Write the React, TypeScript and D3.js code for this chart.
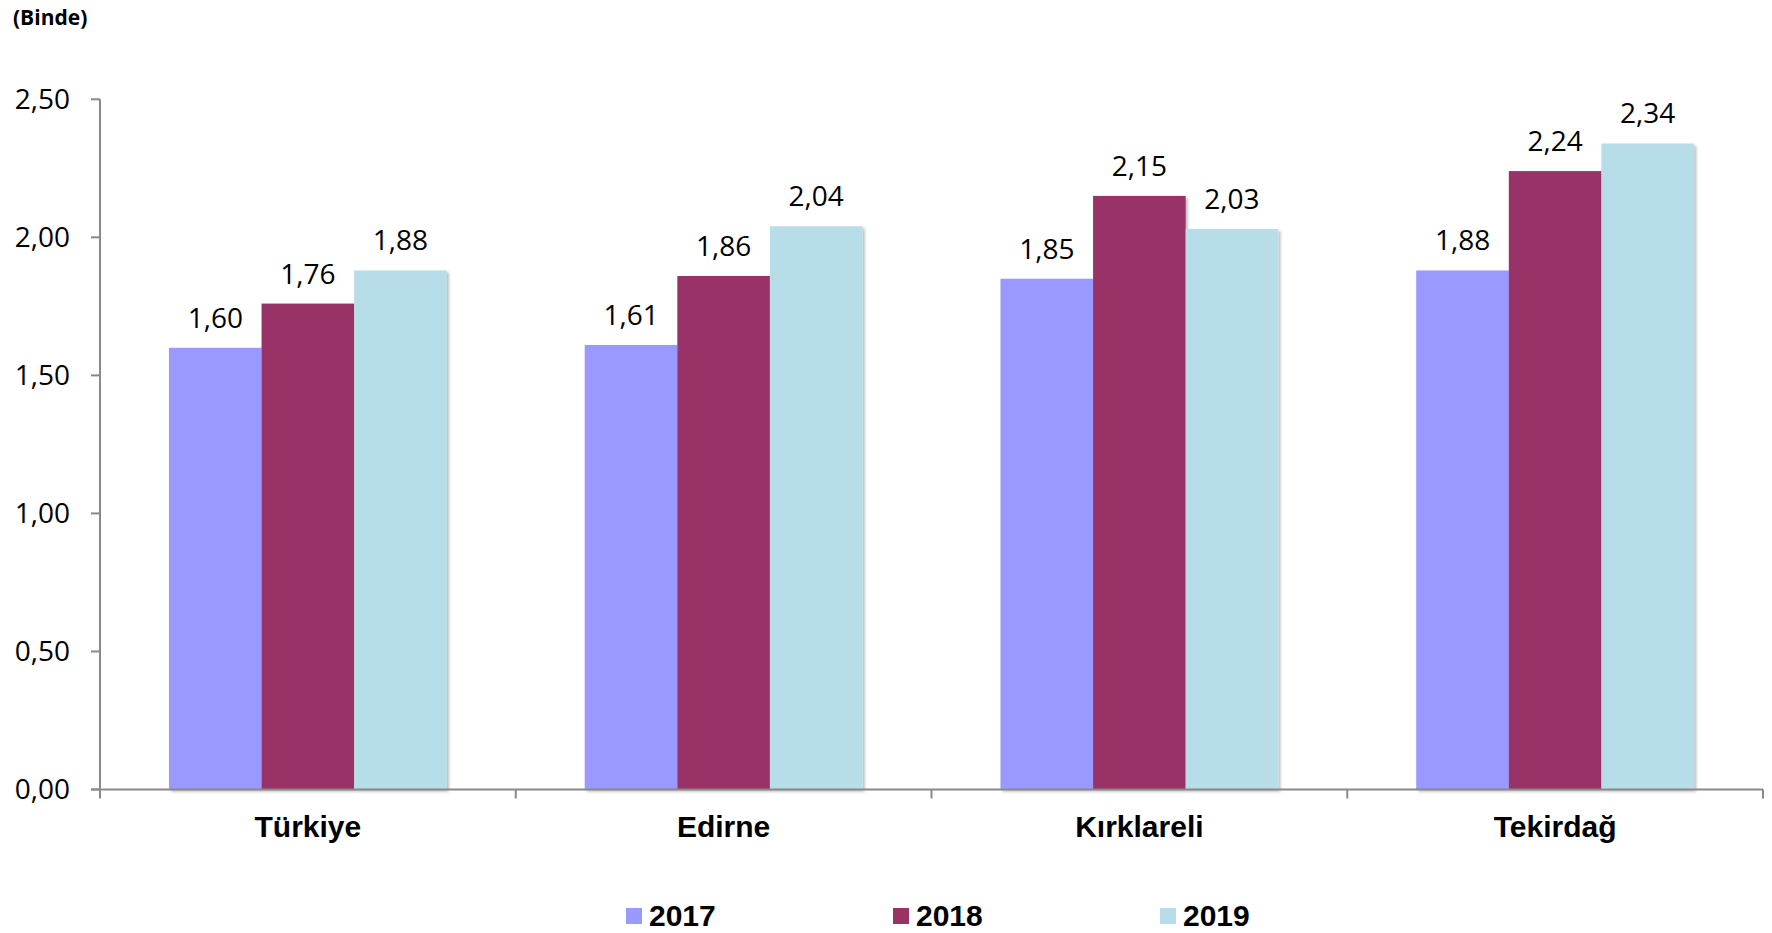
import React from "react";
import * as d3 from "d3";

const categories = ["Türkiye", "Edirne", "Kırklareli", "Tekirdağ"];
const seriesNames = ["2017", "2018", "2019"];
const values2017 = [1.6, 1.61, 1.85, 1.88];
const values2018 = [1.76, 1.86, 2.15, 2.24];
const values2019 = [1.88, 2.04, 2.03, 2.34];
const yTicks = [0, 0.5, 1, 1.5, 2, 2.5];
const colors = ["#9999FF", "#993366", "#B7DEE8"];

const W = 1772;
const H = 933;
const left = 100;
const right = 1763;
const top = 99.3;
const bottom = 789.5;

const fmt = (v: number) => v.toFixed(2).replace(".", ",");

export default function App() {
  const series = [values2017, values2018, values2019];
  const x = d3.scaleBand<string>().domain(categories).range([left, right]).paddingInner(0).paddingOuter(0);
  const inner = d3
    .scaleBand<string>()
    .domain(seriesNames)
    .range([0, x.bandwidth()])
    .paddingOuter(0.745)
    .paddingInner(0);
  const y = d3.scaleLinear().domain([0, 2.5]).range([bottom, top]);
  const axisColor = "#898989";
  const valueFont = "'Open Sans', sans-serif";
  const boldFont = "'Liberation Sans', Arial, sans-serif";

  const legendX = [626, 893, 1160];

  return (
    <div style={{ position: "fixed", left: 0, top: 0 }}>
      <svg width={W} height={H} style={{ display: "block", background: "#fff" }}>
        <defs>
          <filter id="sh" x="-10%" y="-10%" width="130%" height="130%">
            <feDropShadow dx="2" dy="2" stdDeviation="1.5" floodColor="#000" floodOpacity="0.28" />
          </filter>
        </defs>
        <text x={13} y={25} fontFamily={valueFont} fontWeight="bold" fontSize={21} fill="#000">
          (Binde)
        </text>

        {/* bars */}
        {categories.map((c, ci) =>
          series.map((vals, si) => {
            const bx = (x(c) as number) + (inner(seriesNames[si]) as number);
            const bw = inner.bandwidth();
            const v = vals[ci];
            return (
              <g key={c + si}>
                <rect
                  x={bx}
                  y={y(v)}
                  width={bw}
                  height={bottom - y(v)}
                  fill={colors[si]}
                  filter="url(#sh)"
                />
                <text
                  x={bx + bw / 2}
                  y={y(v) - 20}
                  textAnchor="middle"
                  fontFamily={valueFont}
                  fontSize={28}
                  fill="#000"
                >
                  {fmt(v)}
                </text>
              </g>
            );
          })
        )}

        {/* y axis */}
        <line x1={left} x2={left} y1={top} y2={bottom + 9} stroke={axisColor} strokeWidth={2} />
        {yTicks.map((t) => (
          <g key={t}>
            <line x1={left - 9} x2={left} y1={y(t)} y2={y(t)} stroke={axisColor} strokeWidth={2} />
            <text
              x={70}
              y={y(t) + 9.5}
              textAnchor="end"
              fontFamily={valueFont}
              fontSize={28}
              fill="#000"
            >
              {fmt(t)}
            </text>
          </g>
        ))}

        {/* x axis */}
        <line x1={left - 9} x2={right} y1={bottom} y2={bottom} stroke={axisColor} strokeWidth={2} />
        {categories.map((c) => (
          <line
            key={"t" + c}
            x1={(x(c) as number) + x.bandwidth()}
            x2={(x(c) as number) + x.bandwidth()}
            y1={bottom}
            y2={bottom + 9}
            stroke={axisColor}
            strokeWidth={2}
          />
        ))}
        {categories.map((c) => (
          <text
            key={"l" + c}
            x={(x(c) as number) + x.bandwidth() / 2}
            y={836.5}
            textAnchor="middle"
            fontFamily={boldFont}
            fontWeight="bold"
            fontSize={30}
            fill="#000"
          >
            {c}
          </text>
        ))}

        {/* legend */}
        {seriesNames.map((s, i) => (
          <g key={"lg" + s}>
            <rect x={legendX[i]} y={908} width={16} height={16} fill={colors[i]} />
            <text
              x={legendX[i] + 23}
              y={926}
              fontFamily={boldFont}
              fontWeight="bold"
              fontSize={30}
              fill="#000"
            >
              {s}
            </text>
          </g>
        ))}
      </svg>
    </div>
  );
}
